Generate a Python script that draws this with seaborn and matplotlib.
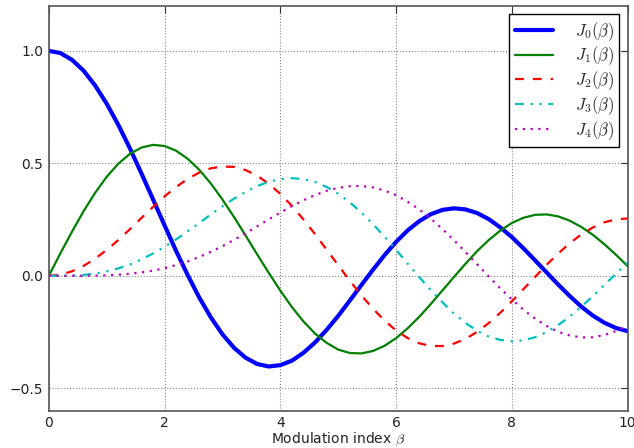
import numpy as np
import pandas as pd
import matplotlib
matplotlib.use('Agg')
import matplotlib.pyplot as plt
import seaborn as sns

# Bessel function values J_n(beta), beta = 0 .. 10 in steps of 0.2
beta = [round(0.2 * i, 1) for i in range(51)]
J0 = [1.000, 0.990, 0.960, 0.912, 0.846, 0.765, 0.671, 0.567, 0.455, 0.340, 0.224, 0.110, 0.003, -0.097, -0.185, -0.260, -0.320, -0.364, -0.392, -0.403, -0.397, -0.377, -0.342, -0.296, -0.240, -0.178, -0.110, -0.041, 0.027, 0.092, 0.151, 0.202, 0.243, 0.274, 0.293, 0.300, 0.295, 0.279, 0.252, 0.215, 0.172, 0.122, 0.069, 0.015, -0.039, -0.090, -0.137, -0.177, -0.209, -0.232, -0.246]
J1 = [0.000, 0.100, 0.196, 0.287, 0.369, 0.440, 0.498, 0.542, 0.570, 0.582, 0.577, 0.556, 0.520, 0.471, 0.410, 0.339, 0.261, 0.179, 0.095, 0.013, -0.066, -0.139, -0.203, -0.257, -0.298, -0.328, -0.343, -0.345, -0.334, -0.311, -0.277, -0.233, -0.182, -0.125, -0.065, -0.005, 0.054, 0.110, 0.159, 0.201, 0.235, 0.258, 0.271, 0.273, 0.264, 0.245, 0.217, 0.182, 0.140, 0.093, 0.043]
J2 = [0.000, 0.005, 0.020, 0.044, 0.076, 0.115, 0.159, 0.207, 0.257, 0.306, 0.353, 0.395, 0.431, 0.459, 0.478, 0.486, 0.484, 0.470, 0.445, 0.409, 0.364, 0.311, 0.250, 0.185, 0.116, 0.047, -0.022, -0.087, -0.146, -0.199, -0.243, -0.277, -0.300, -0.312, -0.312, -0.301, -0.280, -0.249, -0.210, -0.164, -0.113, -0.059, -0.005, 0.049, 0.099, 0.145, 0.184, 0.215, 0.238, 0.251, 0.255]
J3 = [0.000, 0.000, 0.001, 0.004, 0.010, 0.020, 0.033, 0.050, 0.073, 0.099, 0.129, 0.162, 0.198, 0.235, 0.273, 0.309, 0.343, 0.373, 0.399, 0.418, 0.430, 0.434, 0.430, 0.417, 0.395, 0.365, 0.327, 0.281, 0.230, 0.174, 0.115, 0.054, -0.006, -0.064, -0.118, -0.168, -0.210, -0.244, -0.270, -0.285, -0.291, -0.287, -0.273, -0.250, -0.219, -0.181, -0.137, -0.090, -0.040, 0.010, 0.058]
J4 = [0.000, 0.000, 0.000, 0.000, 0.001, 0.002, 0.005, 0.009, 0.015, 0.023, 0.034, 0.048, 0.064, 0.084, 0.107, 0.132, 0.160, 0.189, 0.220, 0.251, 0.281, 0.310, 0.336, 0.359, 0.378, 0.391, 0.398, 0.399, 0.393, 0.379, 0.358, 0.329, 0.295, 0.254, 0.208, 0.158, 0.105, 0.051, -0.003, -0.056, -0.105, -0.151, -0.190, -0.223, -0.249, -0.265, -0.274, -0.273, -0.263, -0.245, -0.220]

labels = [r'$J_0(\beta)$', r'$J_1(\beta)$', r'$J_2(\beta)$', r'$J_3(\beta)$', r'$J_4(\beta)$']
series = [J0, J1, J2, J3, J4]

sns.set_style('white')
plt.rcParams['font.family'] = ['DejaVu Sans']
plt.rcParams['mathtext.fontset'] = 'cm'

fig = plt.figure(figsize=(6.34, 4.48), dpi=100)
ax = fig.add_axes([0.077, 0.083, 0.913, 0.904])

colors = ['#0000ff', '#008000', '#ff0000', '#00bfbf', '#bf00bf']
styles = ['-', '-', (0, (4, 4)), (0, (4, 3, 1, 3, 1, 3)), (0, (1, 2.5))]
widths = [3, 1.6, 1.6, 1.6, 1.6]

for y, lab, c, ls, lw in zip(series, labels, colors, styles, widths):
    sns.lineplot(x=beta, y=y, ax=ax, color=c, linestyle=ls, linewidth=lw, label=lab,
                 solid_joinstyle='round', dash_joinstyle='round')

ax.set_xlim(0, 10)
ax.set_ylim(-0.6, 1.2)
ax.set_xticks([0, 2, 4, 6, 8, 10])
ax.set_yticks([-0.5, 0.0, 0.5, 1.0])
ax.set_xticklabels(['0', '2', '4', '6', '8', '10'])
ax.set_yticklabels(['\u22120.5', '0.0', '0.5', '1.0'])
ax.grid(True, color='#888888', linestyle=':', linewidth=0.8)
ax.tick_params(direction='in', length=5, top=True, right=True, labelsize=10,
               colors='#333333', labelcolor='#222222', pad=4)
for s in ax.spines.values():
    s.set_color('#555555')
    s.set_linewidth(1.2)
ax.set_xlabel(r'Modulation index $\beta$', fontsize=10, color='#222222', labelpad=0)

leg = ax.legend(loc='upper right', fontsize=12, frameon=True, fancybox=False,
                edgecolor='black', framealpha=1, handlelength=2.3, handletextpad=1.3,
                borderaxespad=0.5, labelspacing=0.12, borderpad=0.35)
leg.get_frame().set_linewidth(1.0)

fig.savefig('out.png', dpi=100)
